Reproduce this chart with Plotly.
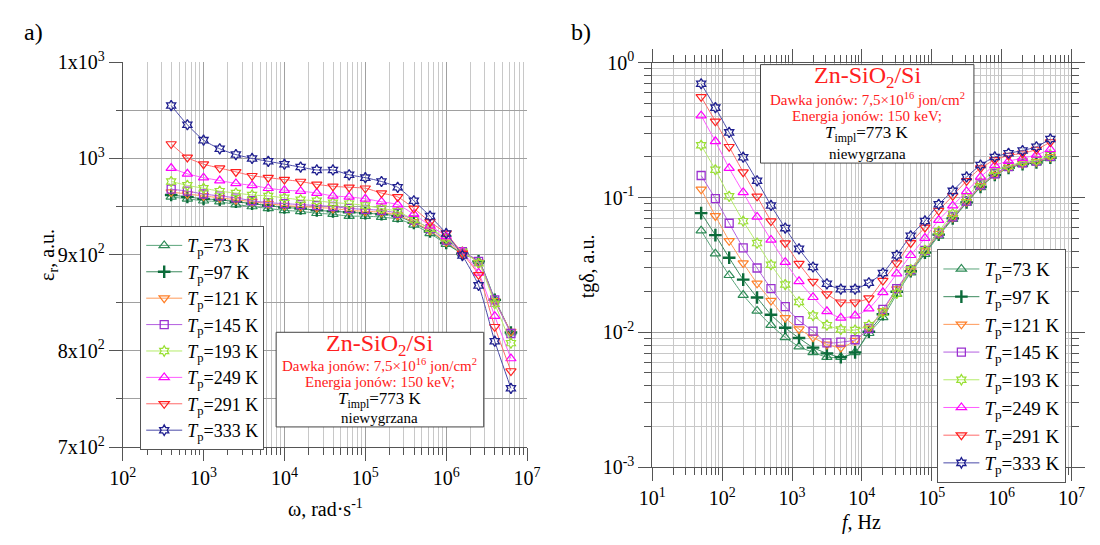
import plotly.graph_objects as go

# ---------------- data ----------------
temps = ["73", "97", "121", "145", "193", "249", "291", "333"]

omega = [398, 631, 1000, 1585, 2512, 3981, 6310, 10000, 15850, 25120, 39810, 63100,
         100000, 158500, 251200, 398100, 631000, 1000000, 1585000, 2512000, 3981000, 6310000]

eps_73 = [960, 958, 956, 955, 952, 950, 948, 946, 945, 943, 942, 940, 940, 939, 937, 931, 922, 911, 901, 893, 854, 819]
eps_97 = [962, 960, 958, 957, 955, 953, 951, 949, 948, 946, 945, 944, 943, 942, 940, 933, 924, 912, 901, 893, 853, 819]
eps_121 = [965, 963, 961, 959, 957, 955, 953, 951, 950, 949, 948, 946, 945, 944, 941, 934, 925, 913, 902, 892, 852, 820]
eps_145 = [968, 966, 963, 961, 959, 956, 954, 953, 952, 951, 950, 948, 947, 946, 943, 936, 927, 915, 903, 893, 853, 818]
eps_193 = [976, 972, 969, 966, 964, 962, 961, 959, 957, 956, 954, 953, 951, 948, 945, 936, 927, 917, 903, 891, 849, 808]
eps_249 = [990, 984, 980, 977, 974, 972, 969, 967, 966, 964, 961, 960, 958, 955, 952, 942, 930, 919, 903, 881, 836, 792]
eps_291 = [1015, 1001, 994, 990, 986, 982, 980, 978, 976, 973, 971, 970, 969, 964, 960, 948, 934, 922, 901, 879, 825, 779]
eps_333 = [1055, 1035, 1019, 1010, 1004, 1000, 997, 994, 991, 988, 988, 983, 980, 976, 970, 956, 940, 922, 899, 868, 810, 761]

freq = [50, 80, 126, 200, 316, 500, 800, 1260, 2000, 3160, 5000, 8000, 12600, 20000, 31600,
        50000, 80000, 126000, 200000, 316000, 500000, 800000, 1260000, 2000000, 3160000, 5000000]

tg_73 = [0.0568, 0.0383, 0.0265, 0.0189, 0.0144, 0.0113, 0.00917, 0.00783, 0.0071, 0.00654, 0.00654, 0.0071, 0.00984, 0.0129, 0.0192,
         0.0277, 0.038, 0.052, 0.069, 0.091, 0.119, 0.146, 0.165, 0.176, 0.181, 0.195]
tg_97 = [0.0766, 0.0526, 0.0357, 0.0246, 0.0181, 0.0135, 0.0108, 0.00906, 0.0077, 0.00698, 0.00654, 0.0071, 0.0101, 0.0136, 0.020,
         0.0284, 0.039, 0.053, 0.070, 0.092, 0.120, 0.147, 0.166, 0.177, 0.182, 0.197]
tg_121 = [0.115, 0.073, 0.0477, 0.0326, 0.0231, 0.0172, 0.0128, 0.01055, 0.00917, 0.00813, 0.0077, 0.00867, 0.01067, 0.0144, 0.0209,
          0.0285, 0.040, 0.054, 0.071, 0.093, 0.122, 0.148, 0.167, 0.179, 0.184, 0.200]
tg_145 = [0.1456, 0.098, 0.0644, 0.0423, 0.030, 0.0211, 0.0155, 0.0122, 0.0102, 0.00836, 0.00845, 0.0088, 0.01067, 0.0148, 0.0211,
          0.0292, 0.0405, 0.0547, 0.0718, 0.094, 0.124, 0.150, 0.1695, 0.181, 0.186, 0.202]
tg_193 = [0.244, 0.1606, 0.102, 0.0668, 0.0459, 0.0317, 0.0226, 0.0168, 0.0133, 0.0113, 0.0105, 0.0104, 0.0113, 0.0140, 0.0194,
          0.0292, 0.0405, 0.0562, 0.0757, 0.100, 0.130, 0.158, 0.171, 0.185, 0.189, 0.207]
tg_249 = [0.405, 0.261, 0.165, 0.109, 0.0718, 0.0485, 0.0331, 0.0239, 0.0182, 0.0143, 0.0128, 0.0133, 0.0150, 0.0198, 0.0272,
          0.0373, 0.050, 0.068, 0.087, 0.111, 0.142, 0.173, 0.186, 0.196, 0.207, 0.228]
tg_291 = [0.558, 0.367, 0.238, 0.154, 0.102, 0.0668, 0.0459, 0.0323, 0.0238, 0.0192, 0.0167, 0.0167, 0.0179, 0.0242, 0.0326,
          0.046, 0.060, 0.080, 0.103, 0.133, 0.165, 0.19, 0.205, 0.213, 0.227, 0.258]
tg_333 = [0.698, 0.464, 0.304, 0.199, 0.133, 0.0873, 0.0593, 0.0416, 0.0305, 0.0229, 0.0209, 0.0209, 0.0233, 0.0275, 0.0373,
          0.052, 0.067, 0.089, 0.112, 0.142, 0.174, 0.20, 0.213, 0.223, 0.238, 0.272]

eps_series = [eps_73, eps_97, eps_121, eps_145, eps_193, eps_249, eps_291, eps_333]
tg_series = [tg_73, tg_97, tg_121, tg_145, tg_193, tg_249, tg_291, tg_333]

left_ytick_vals = [700, 800, 900, 1000, 1100]
left_ytick_text = ["7x10<sup>2</sup>", "8x10<sup>2</sup>", "9x10<sup>2</sup>", "10<sup>3</sup>", "1x10<sup>3</sup>"]

# ---------------- styles ----------------
colors = ["#2e8b57", "#0b6b3a", "#ff7f27", "#9b30d0", "#99e033", "#ff00ff", "#ff2020", "#1f1f8f"]
line_colors = ["#5aa47a", "#3c8a5e", "#ff9a5a", "#b35fe0", "#b5ec6a", "#ff5cff", "#ff6a6a", "#4a4aa8"]
symbols = ["triangle-up-open", "cross-thin", "triangle-down-open", "square-open",
           "hexagram-open", "triangle-up-open", "triangle-down-open", "hexagram-open"]
sizes = [9, 9, 9, 8, 8, 9, 9, 8]
mwidths = [1.2, 2.4, 1.2, 1.3, 1.2, 1.2, 1.2, 1.3]

FONT = "Liberation Serif, Times New Roman, serif"

fig = go.Figure()

for i, t in enumerate(temps):
    fig.add_trace(go.Scatter(
        x=omega, y=eps_series[i], mode="lines+markers",
        name=f"<i>T</i><sub>p</sub>={t} K",
        line=dict(color=line_colors[i], width=1, shape="spline", smoothing=0.6),
        marker=dict(symbol=symbols[i], size=sizes[i], color=colors[i],
                    line=dict(color=colors[i], width=mwidths[i])),
        xaxis="x", yaxis="y", legend="legend"))
for i, t in enumerate(temps):
    fig.add_trace(go.Scatter(
        x=freq, y=tg_series[i], mode="lines+markers",
        name=f"<i>T</i><sub>p</sub>={t} K",
        line=dict(color=line_colors[i], width=1, shape="spline", smoothing=0.6),
        marker=dict(symbol=symbols[i], size=sizes[i], color=colors[i],
                    line=dict(color=colors[i], width=mwidths[i])),
        xaxis="x2", yaxis="y2", legend="legend2"))

W, H = 1100, 545


def px(xp):
    return xp / W


def py(yp):
    return 1 - yp / H


def minor_log(d0, d1):
    return [k * 10 ** d for d in range(d0, d1) for k in range(2, 10)]


GRID_MAJ = "#a0a0a0"
GRID_MIN = "#c8c8c8"
AX = "#555555"
tickfont = dict(family=FONT, size=20, color="black")

common = dict(showline=True, linecolor=AX, linewidth=1, ticks="outside", ticklen=13,
              tickcolor=AX, tickwidth=1, showgrid=True, gridcolor=GRID_MAJ, gridwidth=1,
              zeroline=False, tickfont=tickfont)

fig.update_layout(
    width=W, height=H, margin=dict(l=0, r=0, t=0, b=0),
    paper_bgcolor="white", plot_bgcolor="white",
    font=dict(family=FONT, color="black"),
    xaxis=dict(type="log", range=[2, 7], domain=[px(111.5), px(526.5)], anchor="y",
               tickmode="array", tickvals=[1e2, 1e3, 1e4, 1e5, 1e6, 1e7],
               ticktext=["10<sup>2</sup>", "10<sup>3</sup>", "10<sup>4</sup>", "10<sup>5</sup>", "10<sup>6</sup>", "10<sup>7</sup>"],
               minor=dict(tickmode="array", tickvals=minor_log(2, 7), ticklen=7, ticks="outside",
                          tickcolor=AX, showgrid=True, gridcolor=GRID_MIN),
               **common),
    yaxis=dict(range=[700, 1100], domain=[py(454), py(51.5)], anchor="x",
               tickmode="array", tickvals=left_ytick_vals, ticktext=left_ytick_text,
               minor=dict(tickmode="array", tickvals=[750, 850, 950, 1050], ticklen=6, ticks="outside",
                          tickcolor=AX, showgrid=True, gridcolor=GRID_MAJ),
               **common),
    xaxis2=dict(type="log", range=[1, 7], domain=[px(655), px(1085)], anchor="y2",
                tickmode="array", tickvals=[1e1, 1e2, 1e3, 1e4, 1e5, 1e6, 1e7],
                ticktext=["10<sup>1</sup>", "10<sup>2</sup>", "10<sup>3</sup>", "10<sup>4</sup>", "10<sup>5</sup>", "10<sup>6</sup>", "10<sup>7</sup>"],
                minor=dict(tickmode="array", tickvals=minor_log(1, 7), ticklen=7, ticks="outside",
                           tickcolor=AX, showgrid=True, gridcolor=GRID_MIN),
                mirror="ticks", **common),
    yaxis2=dict(type="log", range=[-3, 0], domain=[py(475), py(52)], anchor="x2",
                tickmode="array", tickvals=[1e-3, 1e-2, 1e-1, 1],
                ticktext=["10<sup>-3</sup>", "10<sup>-2</sup>", "10<sup>-1</sup>", "10<sup>0</sup>"],
                minor=dict(tickmode="array", tickvals=minor_log(-3, 0), ticklen=7, ticks="outside",
                           tickcolor=AX, showgrid=True, gridcolor=GRID_MIN),
                mirror="ticks", **common),
    legend=dict(x=px(129.5), y=py(223), xanchor="left", yanchor="top",
                bgcolor="white", bordercolor="#555", borderwidth=1,
                font=dict(family=FONT, size=18, color="black"), tracegroupgap=0,
                itemwidth=36),
    legend2=dict(x=px(947.5), y=py(247), xanchor="left", yanchor="top",
                 bgcolor="white", bordercolor="#555", borderwidth=1,
                 font=dict(family=FONT, size=19, color="black"), tracegroupgap=0,
                 itemwidth=36),
    showlegend=True,
)

shapes = []
annotations = []


def info_box(x0, x1, y0, y1, lines_y):
    shapes.append(dict(type="rect", xref="paper", yref="paper", x0=px(x0), x1=px(x1),
                       y0=py(y1), y1=py(y0), line=dict(color="#444", width=1),
                       fillcolor="white", layer="above"))
    cx = px((x0 + x1) / 2)
    texts = [("Zn-SiO<sub>2</sub>/Si", 24, "#ff2020"),
             ("Dawka jonów: 7,5×10<sup>16</sup> jon/cm<sup>2</sup>", 15, "#ff2020"),
             ("Energia jonów: 150 keV;", 15, "#ff2020"),
             ("<i>T</i><sub>impl</sub>=773 K", 17, "black"),
             ("niewygrzana", 15, "black")]
    for (txt, sz, col), yy in zip(texts, lines_y):
        annotations.append(dict(text=txt, xref="paper", yref="paper", x=cx, y=py(yy),
                                xanchor="center", yanchor="middle", showarrow=False,
                                font=dict(family=FONT, size=sz, color=col)))


info_box(269, 482, 334, 433, [347, 368, 386, 405, 424])
info_box(766, 985, 54, 157, [67, 90, 108, 127, 148])

annotations += [
    dict(text="ω, rad·s<sup>-1</sup>", xref="paper", yref="paper", x=px(320), y=py(518),
         xanchor="center", yanchor="middle", showarrow=False, font=dict(family=FONT, size=20)),
    dict(text="ε<sub>r</sub>, a.u.", xref="paper", yref="paper", x=px(36), y=py(253),
         xanchor="center", yanchor="middle", showarrow=False, textangle=-90,
         font=dict(family=FONT, size=20)),
    dict(text="<i>f</i>, Hz", xref="paper", yref="paper", x=px(870), y=py(533),
         xanchor="center", yanchor="middle", showarrow=False, font=dict(family=FONT, size=20)),
    dict(text="tgδ, a.u.", xref="paper", yref="paper", x=px(588), y=py(265),
         xanchor="center", yanchor="middle", showarrow=False, textangle=-90,
         font=dict(family=FONT, size=20)),
    dict(text="a)", xref="paper", yref="paper", x=px(8), y=py(20),
         xanchor="left", yanchor="middle", showarrow=False, font=dict(family=FONT, size=24)),
    dict(text="b)", xref="paper", yref="paper", x=px(570), y=py(20),
         xanchor="left", yanchor="middle", showarrow=False, font=dict(family=FONT, size=24)),
]

fig.update_layout(shapes=shapes, annotations=annotations)

fig.write_html("out.html")
